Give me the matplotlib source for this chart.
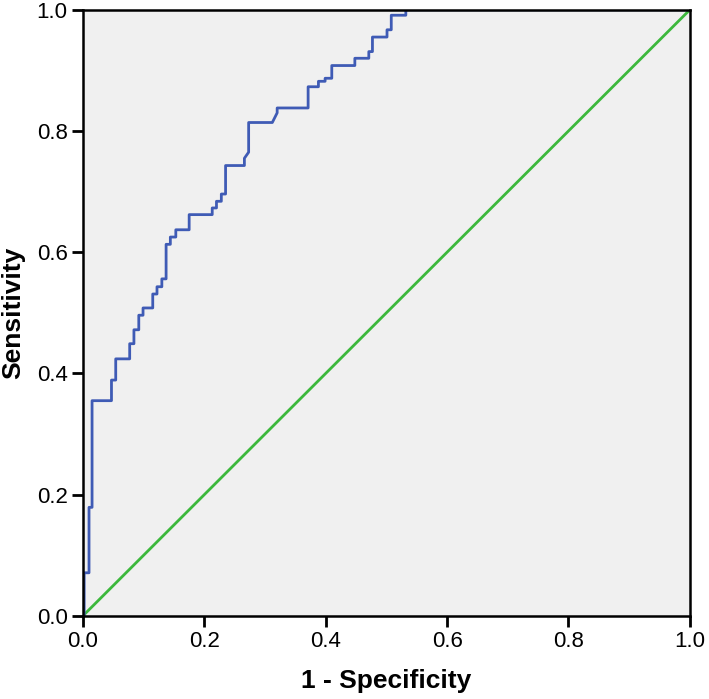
import matplotlib
matplotlib.use("Agg")
import matplotlib.pyplot as plt

# ROC curve vertices
fpr = [0.0, 0.002, 0.002, 0.010, 0.010, 0.015, 0.015, 0.047, 0.047, 0.054, 0.054,
       0.077, 0.077, 0.084, 0.084, 0.092, 0.092, 0.099, 0.099, 0.115, 0.115, 0.122,
       0.122, 0.130, 0.130, 0.137, 0.137, 0.144, 0.144, 0.153, 0.153, 0.175, 0.175,
       0.213, 0.213, 0.220, 0.220, 0.228, 0.228, 0.235, 0.235, 0.266, 0.266, 0.273,
       0.273, 0.312, 0.320, 0.320, 0.371, 0.371, 0.388, 0.388, 0.399, 0.399, 0.410,
       0.410, 0.448, 0.448, 0.471, 0.471, 0.477, 0.477, 0.501, 0.501, 0.508, 0.508,
       0.532, 0.532, 1.0]
tpr = [0.0, 0.0, 0.071, 0.071, 0.179, 0.179, 0.355, 0.355, 0.389, 0.389, 0.424,
       0.424, 0.449, 0.449, 0.472, 0.472, 0.496, 0.496, 0.508, 0.508, 0.531, 0.531,
       0.543, 0.543, 0.556, 0.556, 0.613, 0.613, 0.625, 0.625, 0.637, 0.637, 0.662,
       0.662, 0.673, 0.673, 0.684, 0.684, 0.696, 0.696, 0.743, 0.743, 0.755, 0.765,
       0.814, 0.814, 0.830, 0.838, 0.838, 0.873, 0.873, 0.882, 0.882, 0.887, 0.887,
       0.908, 0.908, 0.920, 0.920, 0.931, 0.931, 0.955, 0.955, 0.967, 0.967, 0.991,
       0.991, 1.0, 1.0]
ref_line = [0.0, 1.0]
ticks = [0.0, 0.2, 0.4, 0.6, 0.8, 1.0]

plt.rcParams['font.family'] = ['Liberation Sans', 'DejaVu Sans']

fig = plt.figure(figsize=(7.09, 6.99), dpi=100)
ax = fig.add_axes([0.117, 0.119, 0.856, 0.867])
ax.set_facecolor('#f0f0f0')

ax.plot(ref_line, ref_line, color='#3cb83c', lw=2)
ax.plot(fpr, tpr, color='#3f5bb5', lw=2)

ax.set_xlim(0, 1)
ax.set_ylim(0, 1)
ax.set_xticks(ticks)
ax.set_yticks(ticks)
ax.set_xticklabels([f"{t:.1f}" for t in ticks])
ax.set_yticklabels([f"{t:.1f}" for t in ticks])
ax.tick_params(direction='out', length=8, width=2, labelsize=16, colors='black', pad=3)
for s in ax.spines.values():
    s.set_linewidth(1.8)

ax.set_xlabel('1 - Specificity', fontsize=19, fontweight='bold', labelpad=12)
ax.set_ylabel('Sensitivity', fontsize=19, fontweight='bold', labelpad=8)

fig.savefig('out.png', dpi=100)
